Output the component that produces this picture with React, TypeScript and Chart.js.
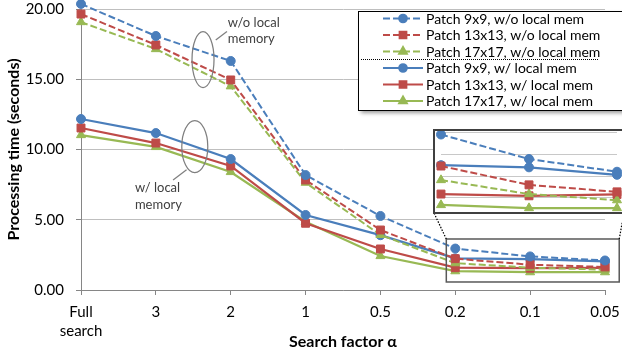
import React, { useEffect, useRef } from 'react';
import { Chart, registerables } from 'chart.js';
import { drawPoint } from 'chart.js/helpers';

Chart.register(...registerables);

// ---------- DATA ----------
const categories: (string | string[])[] = [['Full', 'search'], '3', '2', '1', '0.5', '0.2', '0.1', '0.05'];
const yTickValues = [0, 5, 10, 15, 20];

const seriesLabels = [
  'Patch 9x9, w/o local mem',
  'Patch 13x13, w/o local mem',
  'Patch 17x17, w/o local mem',
  'Patch 9x9, w/ local mem',
  'Patch 13x13, w/ local mem',
  'Patch 17x17, w/ local mem',
];

const patch9NoLocal = [20.36, 18.08, 16.3, 8.18, 5.27, 2.95, 2.39, 2.1];
const patch13NoLocal = [19.64, 17.44, 14.95, 7.83, 4.27, 2.23, 1.8, 1.64];
const patch17NoLocal = [19.07, 17.15, 14.5, 7.64, 3.92, 1.91, 1.59, 1.45];
const patch9Local = [12.17, 11.17, 9.32, 5.34, 3.9, 2.25, 2.2, 2.03];
const patch13Local = [11.53, 10.46, 8.83, 4.75, 2.92, 1.59, 1.55, 1.58];
const patch17Local = [11.03, 10.18, 8.4, 4.86, 2.42, 1.34, 1.27, 1.27];

const seriesValues = [patch9NoLocal, patch13NoLocal, patch17NoLocal, patch9Local, patch13Local, patch17Local];

const annotationNoLocal = ['w/o local', 'memory'];
const annotationLocal = ['w/ local', 'memory'];

// inset shows the last three categories
const insetStart = 5;

// ---------- STYLES ----------
const BLUE = '#4a7ebb';
const RED = '#be4b48';
const GREEN = '#98b954';
const seriesColors = [BLUE, RED, GREEN, BLUE, RED, GREEN];
const seriesStyles = ['circle', 'rect', 'triangle', 'circle', 'rect', 'triangle'];
const seriesRadius = [4.5, 5.6, 5.2, 4.5, 5.6, 5.2];
const FONT = 'Lato';

function makeDatasets(slice?: number) {
  return seriesLabels.map((label, i) => {
    const dashed = i < 3;
    const data = slice === undefined ? seriesValues[i] : seriesValues[i].slice(slice);
    return {
      label,
      data,
      borderColor: seriesColors[i],
      backgroundColor: seriesColors[i],
      borderWidth: dashed ? 2 : 2.25,
      borderDash: dashed ? [7, 3] : [],
      pointStyle: seriesStyles[i] as any,
      pointRadius: seriesRadius[i],
      pointBorderWidth: 1,
      pointBackgroundColor: seriesColors[i],
      pointBorderColor: seriesColors[i],
      tension: 0,
      clip: false as any,
    };
  });
}

// inset layout (pixels in the 622x351 frame)
const INSET = { left: 433, top: 129, width: 192, height: 85, border: 2 };

const decorPlugin = {
  id: 'decor',
  afterDatasetsDraw(chart: any) {
    const { ctx } = chart;
    const xs = chart.scales.x;
    const ys = chart.scales.y;
    const px = (i: number) => xs.getPixelForValue(i);
    const py = (v: number) => ys.getPixelForValue(v);
    ctx.save();
    // ellipses
    ctx.strokeStyle = '#7f7f7f';
    ctx.lineWidth = 1.25;
    ctx.beginPath();
    ctx.ellipse(px(1.63), py(16.4), 11, 28, 0, 0, Math.PI * 2);
    ctx.stroke();
    ctx.beginPath();
    ctx.moveTo(px(1.8), py(17.8));
    ctx.lineTo(px(1.95), py(18.4));
    ctx.stroke();
    ctx.beginPath();
    ctx.ellipse(px(1.52), py(10.2), 13, 26, 0, 0, Math.PI * 2);
    ctx.stroke();
    ctx.beginPath();
    ctx.moveTo(px(1.41), py(8.55));
    ctx.lineTo(px(1.23), py(7.83));
    ctx.stroke();
    // annotation texts
    ctx.fillStyle = '#404040';
    ctx.font = `13px ${FONT}`;
    ctx.textAlign = 'left';
    ctx.textBaseline = 'middle';
    ctx.fillText(annotationNoLocal[0], px(1.96), py(19.0));
    ctx.fillText(annotationNoLocal[1], px(1.96), py(17.85));
    ctx.fillText(annotationLocal[0], px(0.72), py(7.26));
    ctx.fillText(annotationLocal[1], px(0.72), py(6.05));
    // zoom rectangle
    const rl = px(4.88), rr = px(7.19), rt = py(3.63), rb = py(0.57);
    ctx.strokeStyle = '#595959';
    ctx.lineWidth = 1.5;
    ctx.strokeRect(rl, rt, rr - rl, rb - rt);
    // dotted connectors to inset
    ctx.strokeStyle = '#000';
    ctx.lineWidth = 1.25;
    ctx.setLineDash([1.5, 1.5]);
    ctx.beginPath();
    ctx.moveTo(rl, rt);
    ctx.lineTo(INSET.left + 1, INSET.top + INSET.height - 1);
    ctx.moveTo(rr, rt);
    ctx.lineTo(INSET.left + INSET.width - 1, INSET.top + INSET.height - 1);
    ctx.stroke();
    ctx.restore();
  },
  afterDraw(chart: any) {
    const { ctx } = chart;
    const x0 = 358, y0 = 11, w = 275, h = 99;
    ctx.save();
    ctx.shadowColor = 'rgba(0,0,0,0.4)';
    ctx.shadowOffsetX = 3;
    ctx.shadowOffsetY = 3;
    ctx.shadowBlur = 4;
    ctx.fillStyle = '#fff';
    ctx.fillRect(x0, y0, w, h);
    ctx.shadowColor = 'transparent';
    ctx.strokeStyle = '#000';
    ctx.lineWidth = 1;
    ctx.strokeRect(x0 + 0.5, y0 + 0.5, w, h);
    chart.data.datasets.forEach((ds: any, i: number) => {
      const cy = 18.5 + i * 16.5;
      ctx.strokeStyle = ds.borderColor;
      ctx.lineWidth = 2;
      ctx.setLineDash(ds.borderDash || []);
      ctx.beginPath();
      ctx.moveTo(383, cy);
      ctx.lineTo(423, cy);
      ctx.stroke();
      ctx.setLineDash([]);
      ctx.fillStyle = ds.borderColor;
      drawPoint(ctx, { pointStyle: ds.pointStyle, radius: ds.pointRadius * 0.85, rotation: 0, borderWidth: 1 } as any, 403, cy);
      ctx.fillStyle = '#000';
      ctx.font = `14px ${FONT}`;
      ctx.textAlign = 'left';
      ctx.textBaseline = 'middle';
      ctx.fillText(ds.label, 426, cy + 0.5);
    });
    // dotted separator
    ctx.strokeStyle = '#000';
    ctx.lineWidth = 1;
    ctx.setLineDash([1, 1]);
    ctx.beginPath();
    ctx.moveTo(361, 59.5);
    ctx.lineTo(599, 59.5);
    ctx.stroke();
    ctx.restore();
  },
};

export default function App() {
  const mainRef = useRef<HTMLCanvasElement>(null);
  const insetRef = useRef<HTMLCanvasElement>(null);

  useEffect(() => {
    Chart.defaults.font.family = FONT;
    const main = new Chart(mainRef.current!, {
      type: 'line',
      data: { labels: categories as any, datasets: makeDatasets() as any },
      options: {
        responsive: false,
        animation: false,
        layout: { autoPadding: false, padding: { top: 9, right: 17, left: 0, bottom: 0 } },
        plugins: { legend: { display: false }, tooltip: { enabled: false } },
        scales: {
          x: {
            type: 'category',
            offset: false,
            grid: { drawOnChartArea: false, drawTicks: true, tickLength: 5, tickColor: '#868686', lineWidth: 1 },
            border: { color: '#868686', width: 1 },
            ticks: { color: '#000', font: { family: FONT, size: 15, lineHeight: 1.3 }, padding: 7, maxRotation: 0, autoSkip: false },
            title: { display: true, text: 'Search factor α', color: '#000', font: { family: FONT, size: 16, weight: 'bold' }, padding: 0 },
            afterFit: (s: any) => { s.height = 61; s.paddingLeft = 0; s.paddingRight = 0; },
          } as any,
          y: {
            min: 0,
            max: 20,
            afterBuildTicks: (s: any) => { s.ticks = yTickValues.map((v) => ({ value: v })); },
            ticks: { color: '#000', font: { family: FONT, size: 15 }, padding: 12, callback: (v: any) => Number(v).toFixed(2) },
            grid: { color: '#bfbfbf', tickColor: '#868686', tickLength: 5, lineWidth: 1 },
            border: { color: '#868686', width: 1 },
            title: { display: true, text: 'Processing time (seconds)', color: '#000', font: { family: FONT, size: 16, weight: 'bold' }, padding: { top: 4, bottom: 4 } },
            afterFit: (s: any) => { s.width = 81; s.paddingTop = 0; s.paddingBottom = 0; },
          } as any,
        },
      },
      plugins: [decorPlugin],
    });

    const inset = new Chart(insetRef.current!, {
      type: 'line',
      data: { labels: categories.slice(insetStart) as any, datasets: makeDatasets(insetStart) as any },
      options: {
        responsive: false,
        animation: false,
        layout: { autoPadding: false, padding: { top: 0, right: 6, left: 6, bottom: 0 } },
        plugins: { legend: { display: false }, tooltip: { enabled: false } },
        scales: {
          x: { type: 'category', offset: false, display: false } as any,
          y: {
            min: 1.18,
            max: 3.03,
            display: true,
            ticks: { display: false, stepSize: 0.5, includeBounds: false },
            grid: {
              drawTicks: false,
              color: (c: any) => (Math.abs(c.tick.value * 2 - Math.round(c.tick.value * 2)) < 1e-6 ? '#c8c8c8' : 'transparent'),
            },
            border: { display: false },
            afterFit: (s: any) => { s.width = 0; },
          } as any,
        },
      },
    });

    return () => {
      main.destroy();
      inset.destroy();
    };
  }, []);

  const inner = { w: INSET.width - 2 * INSET.border, h: INSET.height - 2 * INSET.border };

  return (
    <div style={{ position: 'fixed', left: 0, top: 0, width: 622, height: 351, overflow: 'hidden', background: '#fff' }}>
      <canvas ref={mainRef} width={622} height={351} style={{ position: 'absolute', left: 0, top: 0 }} />
      <div
        style={{
          position: 'absolute',
          left: INSET.left,
          top: INSET.top,
          width: INSET.width,
          height: INSET.height,
          border: `${INSET.border}px solid #404040`,
          boxSizing: 'border-box',
          background: '#fff',
        }}
      >
        <canvas ref={insetRef} width={inner.w} height={inner.h} style={{ display: 'block' }} />
      </div>
    </div>
  );
}
